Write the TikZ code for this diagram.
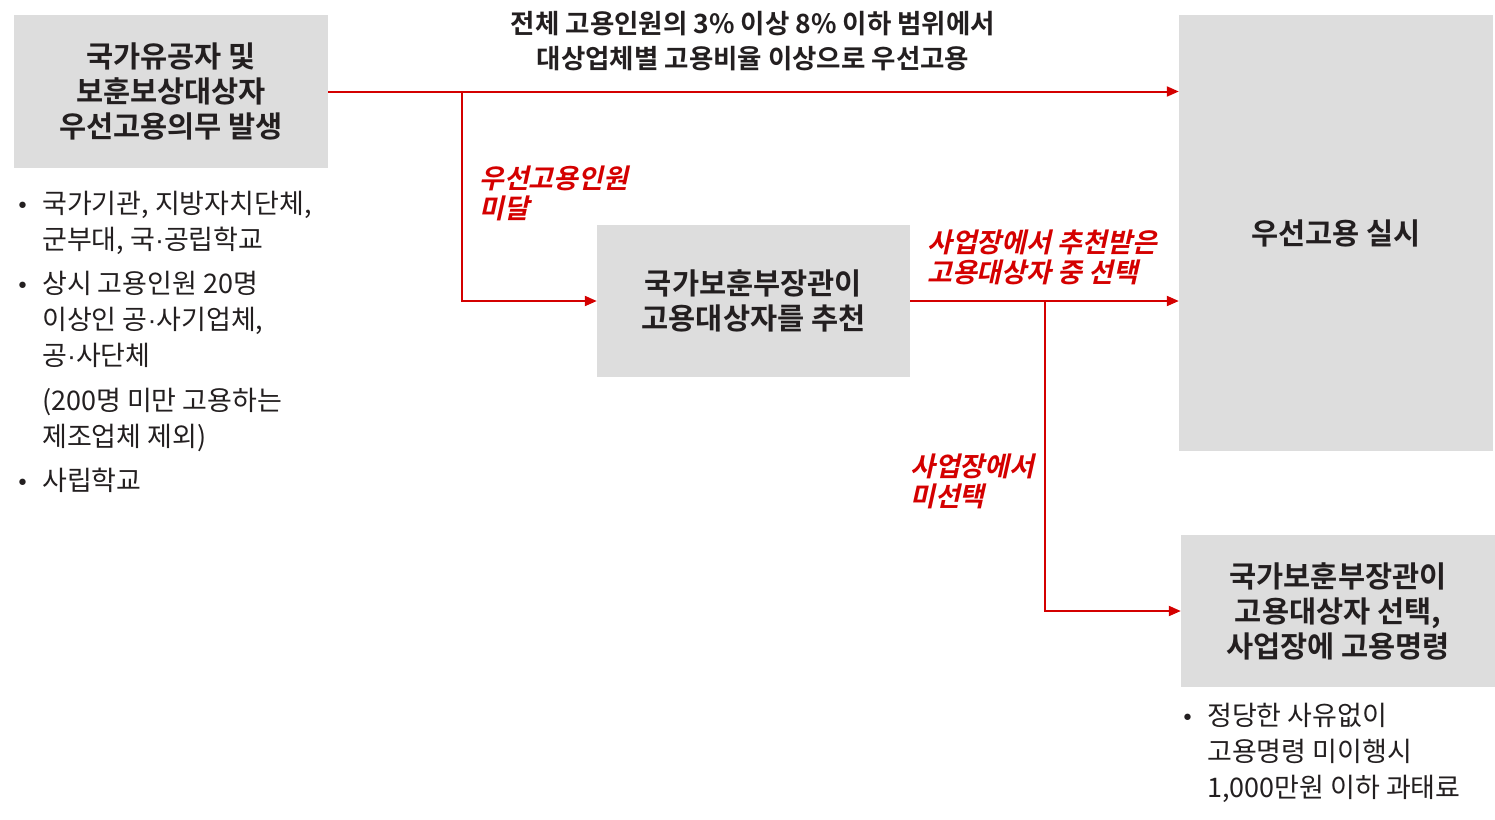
\documentclass[tikz,border=0pt]{standalone}
\usepackage{fontspec}
\setmainfont{Noto Sans CJK KR}[BoldFont={Noto Sans CJK KR Bold}]
\newfontfamily\redfont{Noto Sans CJK KR Bold}[FakeSlant=0.22]
\newfontfamily\dejavu{DejaVu Sans}
\newfontfamily\libsans{Liberation Sans}
\usetikzlibrary{arrows.meta}
\definecolor{boxgray}{HTML}{DDDDDD}
\definecolor{arrred}{HTML}{D40000}
\definecolor{txt}{HTML}{231F20}
\tikzset{
  box/.style={fill=boxgray, draw=none, align=center, text=txt,
    font={\fontsize{29.5}{35}\selectfont\bfseries}, inner sep=0pt},
  conn/.style={draw=arrred, line width=2pt},
  arr/.style={conn, -{Triangle[length=12pt,width=10pt]}},
  redlabel/.style={text=arrred, align=left, inner sep=0pt,
    font={\redfont\fontsize{27}{30}\selectfont}},
  toplabel/.style={text=txt, align=center, inner sep=0pt,
    font={\fontsize{26.5}{35}\selectfont\bfseries}},
  bullets/.style={text=txt, align=left, inner sep=0pt,
    font={\fontsize{27}{36}\selectfont}}
}
\newcommand{\bul}{\makebox[26pt][l]{\dejavu\fontsize{22}{22}\selectfont •}}
\newcommand{\ind}{\hspace*{26pt}}
\newcommand{\md}{{\libsans ·}}
\begin{document}
\begin{tikzpicture}[x=1pt,y=-1pt]
\useasboundingbox (0,0) rectangle (1495,819);
% boxes
\node[box, minimum width=314pt, minimum height=153pt] (A) at (171,91.5)
  {국가유공자 및\\보훈보상대상자\\우선고용의무 발생};
\node[box, minimum width=313pt, minimum height=152pt] (B) at (753.5,301)
  {국가보훈부장관이\\고용대상자를 추천};
\node[box, minimum width=314pt, minimum height=436pt] (C) at (1336,233)
  {우선고용 실시};
\node[box, minimum width=314pt, minimum height=152pt] (D) at (1338,611)
  {국가보훈부장관이\\고용대상자 선택,\\사업장에 고용명령};
% connectors
\coordinate (j1) at (462,91.5);
\coordinate (j2) at (1045,301);
\draw[arr] (A.east) -- (C.west |- A.east);
\draw[arr] (j1) |- (B.west);
\draw[arr] (B.east) -- (C.west |- B.east);
\draw[arr] (j2) |- (D.west);
% labels
\node[toplabel] (t1) at (753,41)
  {전체 고용인원의 3\% 이상 8\% 이하 범위에서\\대상업체별 고용비율 이상으로 우선고용};
\node[redlabel, anchor=west] (r1) at (479,193) {우선고용인원\\미달};
\node[redlabel, anchor=west] (r2) at (927,257) {사업장에서 추천받은\\고용대상자 중 선택};
\node[redlabel, anchor=west] (r3) at (910,481) {사업장에서\\미선택};
% bullet lists
\node[bullets, anchor=west] (L) at (16,342)
  {\bul 국가기관, 지방자치단체,\\
   \ind 군부대, 국\md 공립학교\\[8pt]
   \bul 상시 고용인원 20명\\
   \ind 이상인 공\md 사기업체,\\
   \ind 공\md 사단체\\[9pt]
   \ind (200명 미만 고용하는\\
   \ind 제조업체 제외)\\[8pt]
   \bul 사립학교};
\node[bullets, anchor=west] (R) at (1181,753)
  {\bul 정당한 사유없이\\
   \ind 고용명령 미이행시\\
   \ind 1,000만원 이하 과태료};
\end{tikzpicture}
\end{document}
